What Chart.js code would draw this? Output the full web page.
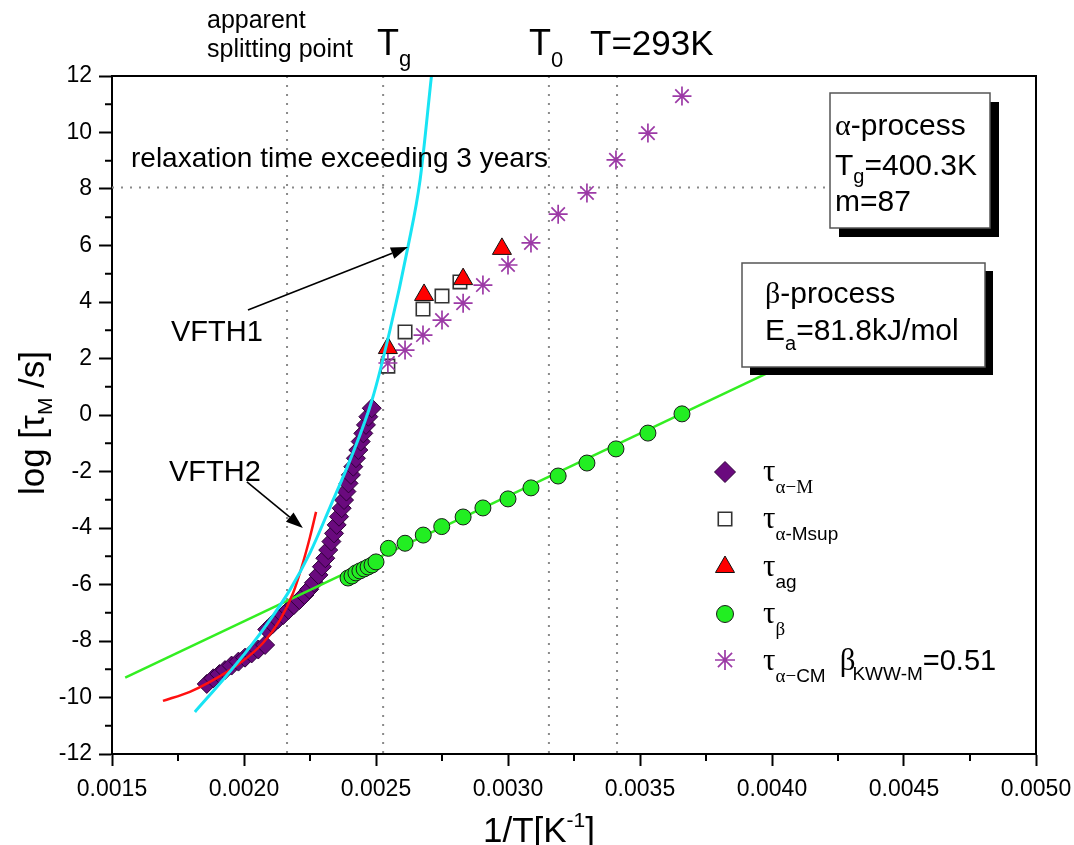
<!DOCTYPE html>
<html><head><meta charset="utf-8">
<script src="https://cdn.jsdelivr.net/npm/chart.js@4.4.1/dist/chart.umd.min.js"></script>
<style>html,body{margin:0;padding:0;background:#fff;}canvas{display:block;}</style>
</head><body>
<canvas id="c" width="1074" height="845"></canvas>
<script>
// ---- data ----
const alphaM_x = [0.001859,0.001884,0.001907,0.001928,0.001953,0.001979,0.002004,0.002029,0.002054,0.00208,
  0.002088,0.002109,0.002129,0.002149,0.002169,0.002189,0.00221,0.002229,0.002247,0.002265,0.002282,0.002295,
  0.002308,0.002319,0.002331,0.002341,0.002351,0.00236,0.00237,0.002379,0.002388,0.002396,0.002405,0.002414,
  0.002424,0.002433,0.002442,0.002452,0.002462,0.002471,0.002484];
const alphaM_y = [-9.52,-9.32,-9.17,-9.03,-8.87,-8.73,-8.59,-8.44,-8.30,-8.14,
  -7.59,-7.40,-7.23,-7.08,-6.90,-6.73,-6.55,-6.37,-6.17,-5.94,-5.66,-5.37,
  -5.07,-4.78,-4.48,-4.19,-3.89,-3.60,-3.30,-3.01,-2.71,-2.42,-2.12,-1.83,
  -1.53,-1.24,-0.94,-0.65,-0.35,-0.06,0.24];
const alphaMsup_x = [0.002545,0.00261,0.002678,0.00275,0.002818];
const alphaMsup_y = [1.73,2.94,3.75,4.21,4.71];
const ag_x = [0.002545,0.002682,0.00283,0.002977];
const ag_y = [2.37,4.25,4.81,5.88];
const beta_x = [0.002394,0.002409,0.002424,0.002439,0.002455,0.00247,0.002485,0.0025,
  0.002547,0.00261,0.002679,0.002749,0.00283,0.002905,0.0030,0.003087,0.00319,0.003299,0.003409,0.00353,0.003659];
const beta_y = [-5.77,-5.70,-5.59,-5.52,-5.45,-5.38,-5.31,-5.20,
  -4.72,-4.54,-4.25,-3.95,-3.61,-3.29,-2.97,-2.58,-2.16,-1.70,-1.20,-0.64,0.04];
const alphaCM_x = [0.002545,0.00261,0.002678,0.00275,0.00283,0.002905,0.0030,0.003087,0.00319,0.003299,0.003409,0.00353,0.003659];
const alphaCM_y = [1.84,2.30,2.83,3.36,3.96,4.6,5.31,6.09,7.11,7.86,9.03,9.98,11.29];
const vfth1_x = [0.001814,0.00192,0.002023,0.002098,0.002174,0.00225,0.002326,0.002402,0.002485,0.002553,0.002621,0.002667,0.00271];
const vfth1_y = [-10.51,-9.38,-8.21,-7.26,-6.19,-4.88,-3.26,-1.59,0.53,3.01,5.95,8.32,12.0];
const vfth2_x = [0.001693,0.001795,0.001871,0.001985,0.002072,0.002136,0.002186,0.002223,0.00225,0.002273];
const vfth2_y = [-10.12,-9.8,-9.45,-8.78,-8.07,-7.26,-6.3,-5.24,-4.32,-3.43];
const arrh_x = [0.00155,0.00405];
const arrh_y = [-9.3,1.78];
const refLinesX = [0.002163,0.002527,0.003155,0.003413];
const refLineY = 8.05;
const xMinorTicks = [0.00175,0.00225,0.00275,0.00325,0.00375,0.00425,0.00475];
const yMinorTicks = [-11,-9,-7,-5,-3,-1,1,3,5,7,9,11];

const SANS = '"Liberation Sans", Arial, sans-serif';
const SERIF = '"Liberation Serif", "Times New Roman", serif';
Chart.defaults.font.family = SANS;

const pts = (xs, ys) => xs.map((x, i) => ({x, y: ys[i]}));

const sty = {
  diamond: {pointStyle:'rectRot', pointRadius:9.5, backgroundColor:'#6a0a7e', borderColor:'#2e0038', borderWidth:1},
  square: {pointStyle:'rect', pointRadius:9.5, backgroundColor:'#ffffff', borderColor:'#333333', borderWidth:1.6},
  tri: {pointStyle:'triangle', pointRadius:11, backgroundColor:'#ff0000', borderColor:'#111111', borderWidth:1},
  circ: {pointStyle:'circle', pointRadius:8, backgroundColor:'#22ee22', borderColor:'#1a1a1a', borderWidth:1},
  star: {pointStyle:'star', pointRadius:9.5, backgroundColor:'#9c3aa6', borderColor:'#9c3aa6', borderWidth:1.7}
};
const legSty = {
  diamond: Object.assign({}, sty.diamond, {pointRadius:10.5}),
  square: Object.assign({}, sty.square, {pointRadius:9.5}),
  tri: Object.assign({}, sty.tri, {pointRadius:11}),
  circ: Object.assign({}, sty.circ, {pointRadius:8.5}),
  star: Object.assign({}, sty.star, {pointRadius:10})
};

function rich(ctx, x, y, parts, align) {
  let w = 0;
  parts.forEach(p => { ctx.font = p[1]; w += ctx.measureText(p[0]).width + (p[3] || 0); });
  let cx = align === 'center' ? x - w/2 : (align === 'right' ? x - w : x);
  ctx.textAlign = 'left'; ctx.textBaseline = 'alphabetic';
  parts.forEach(p => { ctx.font = p[1]; cx += (p[3] || 0); ctx.fillText(p[0], cx, y + (p[2] || 0)); cx += ctx.measureText(p[0]).width; });
}
function arrow(ctx, x1, y1, x2, y2) {
  const a = Math.atan2(y2 - y1, x2 - x1), L = 17, W = 6;
  const bx = x2 - L*Math.cos(a), by = y2 - L*Math.sin(a);
  ctx.strokeStyle = '#000'; ctx.lineWidth = 1.6;
  ctx.beginPath(); ctx.moveTo(x1, y1); ctx.lineTo(bx, by); ctx.stroke();
  ctx.fillStyle = '#000';
  ctx.beginPath(); ctx.moveTo(x2, y2);
  ctx.lineTo(bx + W*Math.sin(a), by - W*Math.cos(a));
  ctx.lineTo(bx - W*Math.sin(a), by + W*Math.cos(a));
  ctx.closePath(); ctx.fill();
}
function box(ctx, x, y, w, h, off) {
  ctx.fillStyle = '#000'; ctx.fillRect(x + off, y + off, w, h);
  ctx.fillStyle = '#fff'; ctx.fillRect(x, y, w, h);
  ctx.strokeStyle = '#555'; ctx.lineWidth = 1.5; ctx.strokeRect(x, y, w, h);
}
function marker(ctx, s, x, y) {
  ctx.save();
  ctx.fillStyle = s.backgroundColor; ctx.strokeStyle = s.borderColor; ctx.lineWidth = s.borderWidth;
  Chart.helpers.drawPoint(ctx, {pointStyle: s.pointStyle, radius: s.pointRadius, rotation: 0, borderWidth: s.borderWidth}, x, y);
  ctx.restore();
}

const decor = {
  id: 'decor',
  beforeDatasetsDraw(chart) {
    const ctx = chart.ctx, xs = chart.scales.x, ys = chart.scales.y, a = chart.chartArea;
    ctx.save();
    ctx.strokeStyle = '#8a8a8a'; ctx.lineWidth = 2; ctx.setLineDash([2, 7]);
    refLinesX.forEach(v => { const p = xs.getPixelForValue(v); ctx.beginPath(); ctx.moveTo(p, a.top); ctx.lineTo(p, a.bottom); ctx.stroke(); });
    const yy = ys.getPixelForValue(refLineY);
    ctx.beginPath(); ctx.moveTo(a.left, yy); ctx.lineTo(830, yy); ctx.stroke();
    ctx.restore();
  },
  afterDatasetsDraw(chart) {
    const ctx = chart.ctx, xs = chart.scales.x, ys = chart.scales.y, a = chart.chartArea;
    ctx.save();
    // frame
    ctx.strokeStyle = '#000'; ctx.lineWidth = 2;
    ctx.beginPath(); ctx.moveTo(a.left, a.top); ctx.lineTo(a.right, a.top); ctx.lineTo(a.right, a.bottom); ctx.stroke();
    // minor ticks
    xMinorTicks.forEach(v => { const p = xs.getPixelForValue(v); ctx.beginPath(); ctx.moveTo(p, a.bottom); ctx.lineTo(p, a.bottom + 7); ctx.stroke(); });
    yMinorTicks.forEach(v => { const p = ys.getPixelForValue(v); ctx.beginPath(); ctx.moveTo(a.left, p); ctx.lineTo(a.left - 7, p); ctx.stroke(); });
    // boxes
    box(ctx, 830, 93, 160, 135, 9);
    box(ctx, 742, 263, 243, 104, 8);
    ctx.fillStyle = '#000';
    rich(ctx, 835, 135, [['\u03b1', '30px ' + SERIF], ['-process', '30px ' + SANS]]);
    rich(ctx, 835, 175, [['T', '30px ' + SANS], ['g', '20px ' + SANS, 8], ['=400.3K', '30px ' + SANS]]);
    rich(ctx, 835, 211, [['m=87', '30px ' + SANS]]);
    rich(ctx, 765, 303, [['\u03b2', '30px ' + SERIF], ['-process', '30px ' + SANS]]);
    rich(ctx, 765, 340, [['E', '30px ' + SANS], ['a', '20px ' + SANS, 10], ['=81.8kJ/mol', '30px ' + SANS]]);
    // annotations
    rich(ctx, 207, 28, [['apparent', '25px ' + SANS]]);
    rich(ctx, 207, 57, [['splitting point', '25px ' + SANS]]);
    rich(ctx, 377, 55, [['T', '36px ' + SANS], ['g', '22px ' + SANS, 11]]);
    rich(ctx, 529, 55, [['T', '36px ' + SANS], ['0', '22px ' + SANS, 12]]);
    rich(ctx, 590, 55, [['T=293K', '35px ' + SANS]]);
    rich(ctx, 131, 167, [['relaxation time exceeding 3 years', '28px ' + SANS]]);
    rich(ctx, 171, 341, [['VFTH1', '29px ' + SANS]]);
    rich(ctx, 169, 481, [['VFTH2', '29px ' + SANS]]);
    arrow(ctx, xs.getPixelForValue(0.002015), ys.getPixelForValue(3.72), xs.getPixelForValue(0.002621), ys.getPixelForValue(5.95));
    arrow(ctx, xs.getPixelForValue(0.002011), ys.getPixelForValue(-2.37), xs.getPixelForValue(0.002223), ys.getPixelForValue(-4.0));
    // legend
    const rows = [472, 519, 567, 614, 660];
    const mk = [legSty.diamond, legSty.square, legSty.tri, legSty.circ, legSty.star];
    rows.forEach((ry, i) => marker(ctx, mk[i], 725, ry));
    ctx.fillStyle = '#000';
    const TAU = ['\u03c4', '31px ' + SERIF];
    const SUBS = '19px ' + SERIF, SUBA = '19px ' + SANS;
    rich(ctx, 763, rows[0] + 9, [TAU, ['\u03b1\u2212M', SUBS, 12]]);
    rich(ctx, 763, rows[1] + 9, [TAU, ['\u03b1', SUBS, 12], ['-Msup', SUBA, 12]]);
    rich(ctx, 763, rows[2] + 9, [TAU, ['ag', SUBA, 12]]);
    rich(ctx, 763, rows[3] + 9, [TAU, ['\u03b2', SUBS, 12]]);
    rich(ctx, 763, rows[4] + 10, [TAU, ['\u03b1\u2212', SUBS, 12], ['CM', SUBA, 12],
      ['\u03b2', '31px ' + SERIF, 0, 14], ['KWW-M', SUBA, 10, -3], ['=0.51', '29px ' + SANS]]);
    // axis titles
    ctx.save();
    ctx.translate(32, 423); ctx.rotate(-Math.PI/2);
    rich(ctx, 0, 12, [['log [\u03c4', '35px ' + SANS], ['M', '21px ' + SANS, 8], [' /s]', '35px ' + SANS]], 'center');
    ctx.restore();
    rich(ctx, 539, 842, [['1/T[K', '35px ' + SANS], ['-1', '21px ' + SANS, -15], [']', '35px ' + SANS]], 'center');
    ctx.restore();
  }
};

const ds = [
  {label:'VFTH1', data: pts(vfth1_x, vfth1_y), showLine:true, pointRadius:0, borderColor:'#18e4f4', borderWidth:3, cubicInterpolationMode:'monotone', order:0},
  {label:'VFTH2', data: pts(vfth2_x, vfth2_y), showLine:true, pointRadius:0, borderColor:'#ff1010', borderWidth:2.5, cubicInterpolationMode:'monotone', order:1},
  Object.assign({label:'tau_beta', data: pts(beta_x, beta_y), order:2}, sty.circ),
  {label:'Arrhenius', data: pts(arrh_x, arrh_y), showLine:true, pointRadius:0, borderColor:'#33ee22', borderWidth:2.5, order:3},
  Object.assign({label:'tau_ag', data: pts(ag_x, ag_y), order:4}, sty.tri),
  Object.assign({label:'tau_alpha-CM', data: pts(alphaCM_x, alphaCM_y), order:5}, sty.star),
  Object.assign({label:'tau_alpha-Msup', data: pts(alphaMsup_x, alphaMsup_y), order:6}, sty.square),
  Object.assign({label:'tau_alpha-M', data: pts(alphaM_x, alphaM_y), order:7}, sty.diamond)
];

new Chart(document.getElementById('c'), {
  type: 'scatter',
  data: {datasets: ds},
  options: {
    responsive: false, animation: false,
    layout: {padding: {top: 76, right: 38, left: 0, bottom: 0}},
    plugins: {legend: {display: false}, tooltip: {enabled: false}},
    scales: {
      x: {type: 'linear', min: 0.0015, max: 0.005,
        ticks: {stepSize: 0.0005, callback: v => Number(v).toFixed(4), font: {size: 23}, color: '#000', padding: 10, maxRotation: 0, autoSkip: false},
        grid: {drawOnChartArea: false, drawTicks: true, tickLength: 12, tickWidth: 2, tickColor: '#000', color: '#000'},
        border: {display: true, color: '#000', width: 2},
        afterFit: s => { s.height = 91; s.paddingLeft = 0; s.paddingRight = 0; }},
      y: {type: 'linear', min: -12, max: 12,
        ticks: {stepSize: 2, callback: v => String(Math.round(v)), font: {size: 23}, color: '#000', padding: 7},
        grid: {drawOnChartArea: false, drawTicks: true, tickLength: 13, tickWidth: 2, tickColor: '#000', color: '#000'},
        border: {display: true, color: '#000', width: 2},
        afterFit: s => { s.width = 112; s.paddingTop = 0; s.paddingBottom = 0; }}
    }
  },
  plugins: [decor]
});
</script>
</body></html>
